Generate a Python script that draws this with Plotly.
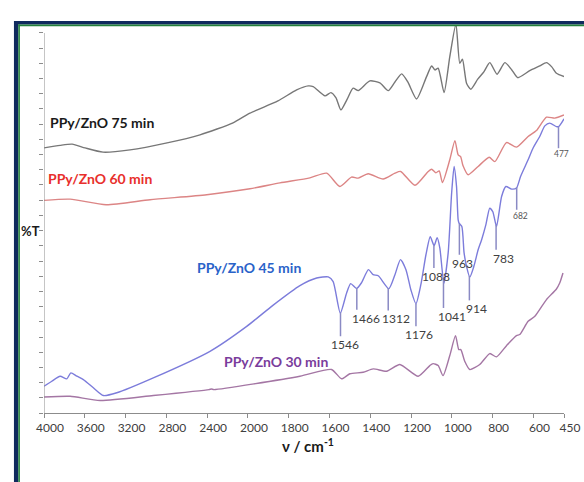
import numpy as np
import plotly.graph_objects as go

# FTIR spectra of PPy/ZnO composites prepared for different times
# wavenumber (cm-1) and offset transmittance (%T, arbitrary units)
wn_75 = [4000, 3842, 3724, 3597, 3421, 3156, 2793, 2470, 2146, 1990, 1853, 1761, 1704, 1680,
         1622, 1593, 1568, 1544, 1515, 1484, 1459, 1402, 1353, 1312, 1279, 1246, 1216, 1173,
         1124, 1099, 1083, 1067, 1038, 1010, 980, 961, 948, 928, 907, 873, 843, 814, 778,
         740, 706, 677, 618, 569, 536, 510, 487, 450]
t_75 = [17.44, 17.61, 17.69, 17.44, 17.16, 17.31, 17.77, 18.30, 19.09, 19.73, 20.53, 21.26,
        21.52, 21.47, 20.86, 21.08, 20.73, 19.94, 20.60, 21.37, 21.21, 21.85, 21.72, 21.21,
        21.78, 22.31, 21.78, 20.66, 22.13, 22.83, 22.57, 22.68, 21.08, 23.44, 25.59, 23.01,
        23.27, 21.70, 21.30, 21.96, 22.44, 23.05, 22.29, 23.05, 22.57, 22.06, 22.52, 22.83,
        23.05, 22.77, 22.35, 22.13]

wn_60 = [4000, 3744, 3391, 2960, 2404, 1990, 1843, 1696, 1614, 1549, 1492, 1459, 1410, 1337,
         1279, 1251, 1181, 1116, 1099, 1078, 1062, 1046, 1010, 985, 969, 957, 945, 920, 871,
         817, 789, 732, 683, 626, 585, 536, 495, 450]
t_60 = [13.99, 14.07, 13.70, 14.03, 14.36, 14.75, 15.14, 15.47, 15.78, 14.90, 15.52, 15.45,
        15.74, 15.39, 15.78, 15.89, 14.98, 15.89, 16.04, 15.80, 15.93, 15.16, 16.66, 17.92,
        16.98, 16.87, 16.26, 15.67, 16.22, 16.83, 16.54, 17.79, 17.49, 18.19, 18.58, 19.46,
        19.40, 19.61]

wn_45 = [4000, 3924, 3842, 3776, 3737, 3678, 3614, 3516, 3418, 3286, 2928, 2372, 2012, 1876,
         1745, 1663, 1606, 1582, 1547, 1516, 1496, 1467, 1443, 1409, 1386, 1361, 1309, 1279,
         1252, 1225, 1201, 1176, 1152, 1127, 1106, 1087, 1072, 1059, 1039, 1018, 1001, 989,
         977, 969, 964, 951, 940, 928, 912, 892, 871, 854, 833, 814, 799, 781, 756, 735, 707,
         683, 663, 626, 602, 569, 544, 520, 487, 476, 462, 450]
t_45 = [1.76, 2.09, 2.42, 2.25, 2.64, 2.42, 2.20, 1.66, 1.15, 1.33, 2.31, 4.06, 5.70, 7.10,
        8.38, 8.88, 8.95, 8.64, 6.57, 7.90, 8.51, 8.20, 8.57, 9.43, 9.10, 9.03, 8.18, 9.10,
        10.09, 9.43, 8.11, 7.19, 8.44, 10.41, 11.60, 11.01, 11.53, 10.87, 8.54, 10.53, 14.47,
        16.22, 14.90, 12.71, 12.48, 12.27, 10.53, 9.65, 8.94, 9.65, 10.74, 11.40, 12.39, 13.48,
        13.24, 12.27, 14.24, 14.90, 14.73, 14.80, 15.56, 16.66, 17.42, 18.19, 18.89, 19.07,
        18.84, 18.84, 19.09, 19.35]

wn_30 = [4000, 3744, 3450, 2928, 2382, 2357, 2333, 1745, 1590, 1541, 1500, 1435, 1386, 1320,
         1255, 1165, 1108, 1092, 1067, 1043, 1010, 982, 966, 956, 936, 912, 863, 814, 781,
         732, 683, 667, 626, 593, 536, 487, 471, 455]
t_30 = [1.05, 1.10, 0.82, 1.15, 1.54, 1.58, 1.54, 2.42, 2.86, 2.25, 2.58, 2.68, 2.90, 2.75,
        3.19, 2.42, 3.12, 3.25, 3.12, 2.46, 3.78, 5.09, 4.17, 4.17, 3.38, 2.86, 3.19, 3.91,
        3.69, 4.43, 5.09, 5.16, 6.03, 6.36, 7.46, 8.16, 8.55, 9.21]

# band assignments marked on the 45 min spectrum
peak_wn = [1546, 1466, 1312, 1176, 1088, 1041, 963, 914, 783, 682, 477]
peak_text = ["1546", "1466", "1312", "1176", "1088", "1041", "963", "914", "783", "682", "477"]

tick_wn = [4000, 3600, 3200, 2800, 2400, 2000, 1800, 1600, 1400, 1200, 1000, 800, 600, 450]

# leader line end (in %T units) and label nudges for each marked band
leader_end = [5.05, 6.80, 6.75, 5.70, 9.54, 6.91, 10.41, 7.41, 10.74, 13.37, 17.42]
label_dx = [4, 9, 8, 3, 2, 9, 3, 7, 7, 4, 3]
small_bands = {682, 477}


def axis_pos(wn):
    """Half-scale above 2000 cm-1, full scale below (usual FTIR layout)."""
    wn = np.asarray(wn, dtype=float)
    return np.where(wn > 2000, 2000 + (wn - 2000) / 2.0, wn)


FONT = "Lato, 'Open Sans', sans-serif"
W, H = 584, 482
ML, MR, MT, MB = 44, 20, 26, 68.5
PW, PH = W - ML - MR, H - MT - MB


def px_x(p):
    return (p - ML) / PW


def px_y(p):
    return (H - MB - p) / PH


fig = go.Figure()

series = [
    (wn_75, t_75, "#777777"),
    (wn_60, t_60, "#dc8585"),
    (wn_45, t_45, "#7c7cdb"),
    (wn_30, t_30, "#a476a4"),
]
for wn, t, col in series:
    fig.add_trace(go.Scatter(
        x=axis_pos(wn), y=t, mode="lines",
        line=dict(color=col, width=1.4, shape="spline", smoothing=0.6),
        showlegend=False, hoverinfo="skip"))

shapes = []
annotations = []

# leader lines and band labels
wn45_rev = np.asarray(wn_45[::-1], dtype=float)
t45_rev = np.asarray(t_45[::-1], dtype=float)
for wn, txt, yend, dx in zip(peak_wn, peak_text, leader_end, label_dx):
    ytop = float(np.interp(wn, wn45_rev, t45_rev))
    xp = float(axis_pos(wn))
    shapes.append(dict(type="line", xref="x", yref="y", x0=xp, x1=xp, y0=ytop, y1=yend,
                       line=dict(color="#8a8ac4", width=1.5), layer="above"))
    small = wn in small_bands
    annotations.append(dict(x=xp, y=yend, xref="x", yref="y", text=txt, showarrow=False,
                            xanchor="center", yanchor="top", xshift=dx, yshift=1,
                            font=dict(family=FONT, size=8.5 if small else 12,
                                      color="#555555" if small else "#404040")))

# sample labels
labels = [
    ("PPy/ZnO 75 min", 48, 123, "#1a1a1a"),
    ("PPy/ZnO 60 min", 46, 179, "#e8302c"),
    ("PPy/ZnO 45 min", 195, 268, "#2a63c9"),
    ("PPy/ZnO 30 min", 222, 361.5, "#7a3d9c"),
]
for txt, x, y, col in labels:
    annotations.append(dict(x=px_x(x), y=px_y(y), xref="paper", yref="paper", text=txt,
                            showarrow=False, xanchor="left", yanchor="middle",
                            font=dict(family=FONT, size=14, color=col, weight="bold")))

annotations.append(dict(x=px_x(30), y=px_y(231), xref="paper", yref="paper", text="%T",
                        showarrow=False, xanchor="center", yanchor="middle",
                        font=dict(family=FONT, size=13, color="#1a1a1a", weight="bold")))
annotations.append(dict(x=px_x(308), y=px_y(446), xref="paper", yref="paper",
                        text="ν / cm<sup>-1</sup>", showarrow=False,
                        xanchor="center", yanchor="middle",
                        font=dict(family=FONT, size=15, color="#1a1a1a", weight="bold")))

# y axis line (up to the last tick)
shapes.append(dict(type="line", xref="x", yref="y", x0=3000, x1=3000, y0=0, y1=25,
                   line=dict(color="#8c8c8c", width=1)))

# slide frame
navy, green = "#0f2a5e", "#23803c"
shapes += [
    dict(type="line", xref="paper", yref="paper", x0=px_x(16), x1=px_x(600),
         y0=px_y(22.7), y1=px_y(22.7), line=dict(color=navy, width=3.6)),
    dict(type="line", xref="paper", yref="paper", x0=px_x(16.1), x1=px_x(16.1),
         y0=px_y(21), y1=px_y(500), line=dict(color=navy, width=4.3)),
    dict(type="line", xref="paper", yref="paper", x0=px_x(18.4), x1=px_x(600),
         y0=px_y(25.4), y1=px_y(25.4), line=dict(color=green, width=1.8)),
    dict(type="line", xref="paper", yref="paper", x0=px_x(19.1), x1=px_x(19.1),
         y0=px_y(24.6), y1=px_y(500), line=dict(color=green, width=1.6)),
]

fig.update_layout(
    width=W, height=H,
    margin=dict(l=ML, r=MR, t=MT, b=MB, pad=0, autoexpand=False),
    paper_bgcolor="white", plot_bgcolor="white",
    shapes=shapes, annotations=annotations,
    xaxis=dict(range=[3000, 450], tickvals=axis_pos(tick_wn),
               ticktext=[str(v) for v in tick_wn], automargin=False,
               showgrid=False, zeroline=False, showline=True, linecolor="#8c8c8c",
               linewidth=1, ticks="outside", ticklen=4, tickcolor="#8c8c8c",
               ticklabelshift=-6,
               tickfont=dict(family=FONT, size=12, color="#404040")),
    yaxis=dict(range=[0, (H - MB - MT) / 15.22], tickvals=list(range(0, 26)),
               showticklabels=False, showgrid=False, zeroline=False, showline=False,
               automargin=False,
               ticks="outside", ticklen=4, tickcolor="#8c8c8c"),
)

fig.write_html("out.html")
